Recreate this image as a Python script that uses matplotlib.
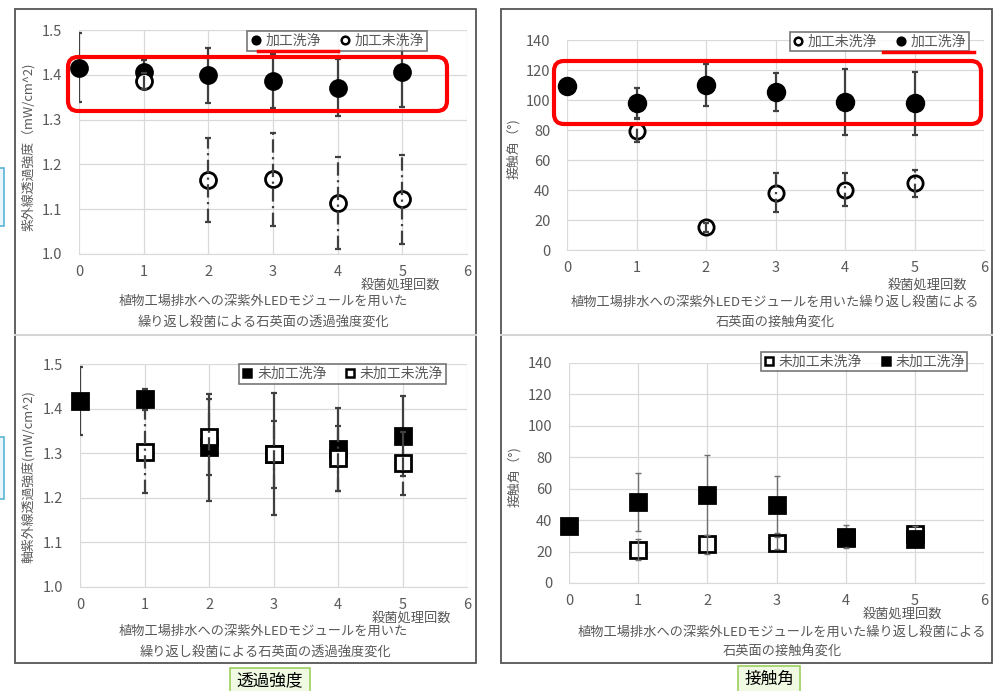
import matplotlib
matplotlib.use("Agg")
import matplotlib.pyplot as plt
from matplotlib.lines import Line2D
from matplotlib.patches import FancyBboxPatch, Rectangle

plt.rcParams['font.family'] = ['Noto Sans CJK JP', 'DejaVu Sans']

W, H = 1000, 691

# ---------------- data ----------------
x_all = [0, 1, 2, 3, 4, 5]
x_sub = [1, 2, 3, 4, 5]

# top-left: transmitted UV intensity (processed)
tl_wash_y = [1.416, 1.407, 1.399, 1.386, 1.371, 1.407]
tl_wash_sd = [0.077, 0.026, 0.061, 0.060, 0.064, 0.079]
tl_nowash_y = [1.387, 1.165, 1.167, 1.114, 1.122]
tl_nowash_sd = [0.018, 0.093, 0.104, 0.102, 0.100]

# top-right: contact angle (processed)
tr_nowash_y = [79.6, 15.1, 38.2, 40.2, 44.4]
tr_nowash_sd = [7.5, 3.0, 13.0, 11.0, 9.0]
tr_wash_y = [109.6, 97.8, 110.0, 105.3, 98.9, 97.8]
tr_wash_sd = [1.0, 10.0, 14.0, 12.5, 22.0, 21.0]

# bottom-left: transmitted UV intensity (unprocessed)
bl_wash_y = [1.417, 1.422, 1.313, 1.298, 1.309, 1.339]
bl_wash_sd = [0.076, 0.023, 0.120, 0.137, 0.093, 0.090]
bl_nowash_y = [1.303, 1.337, 1.298, 1.289, 1.277]
bl_nowash_sd = [0.093, 0.085, 0.075, 0.073, 0.070]

# bottom-right: contact angle (unprocessed)
br_nowash_y = [21.2, 24.6, 25.5, 28.6, 31.4]
br_nowash_sd = [6.5, 6.0, 4.0, 5.0, 5.0]
br_wash_y = [36.3, 51.5, 55.8, 49.8, 29.3, 27.8]
br_wash_sd = [0.5, 18.5, 25.5, 18.0, 7.3, 2.0]

xticks = [0, 1, 2, 3, 4, 5, 6]
yticks_uv = [1.0, 1.1, 1.2, 1.3, 1.4, 1.5]
yticks_ca = [0, 20, 40, 60, 80, 100, 120, 140]

lab_wash_p = '加工洗浄'
lab_nowash_p = '加工未洗浄'
lab_wash_u = '未加工洗浄'
lab_nowash_u = '未加工未洗浄'
xlab_count = '殺菌処理回数'
cap_uv = ['植物工場排水への深紫外LEDモジュールを用いた', '繰り返し殺菌による石英面の透過強度変化']
cap_ca = ['植物工場排水への深紫外LEDモジュールを用いた繰り返し殺菌による', '石英面の接触角変化']

GRAY = '#595959'
GRID = '#d9d9d9'
EB = '#404040'

fig = plt.figure(figsize=(W / 100, H / 100), dpi=100)
fig.patch.set_facecolor('white')


def fx(px):
    return px / W


def fy(py):
    return 1 - py / H


def add_ax(x0, y0, x1, y1):
    return fig.add_axes([fx(x0), fy(y1), fx(x1) - fx(x0), fy(y0) - fy(y1)])


def style(ax, ylim, yticks, fmt):
    ax.set_xlim(0, 6)
    ax.set_ylim(*ylim)
    ax.set_xticks(xticks)
    ax.set_yticks(yticks)
    ax.set_yticklabels([fmt.format(v) for v in yticks])
    for s in ['top', 'right', 'left']:
        ax.spines[s].set_visible(False)
    ax.spines['bottom'].set_color(GRID)
    ax.grid(True, color=GRID, lw=0.9)
    ax.set_axisbelow(True)
    ax.tick_params(length=0, colors=GRAY, labelsize=10.5)
    ax.tick_params(axis='x', pad=8)
    ax.tick_params(axis='y', pad=12)
    ax.set_facecolor('white')


def series(ax, xs, ys, sd, marker, filled, ms, dashed, z, eb_color=EB, eb_lw=1.6):
    ax.plot(xs, ys, ls='none', marker=marker, ms=ms,
            mfc='black' if filled else 'white', mec='black',
            mew=2.0, zorder=z, clip_on=False)
    ez = z - 0.5 if filled else z + 0.5
    eb = ax.errorbar(xs, ys, yerr=sd, fmt='none', ecolor=eb_color,
                     elinewidth=eb_lw, capsize=2, capthick=eb_lw, zorder=ez)
    if dashed:
        for lc in eb[2]:
            lc.set_linestyle((0, (6, 2, 1, 2)))


def legend(ax, entries, bbox_px):
    x0, y0, x1, y1 = bbox_px
    handles = [Line2D([], [], ls='none', marker=m, ms=5.5,
                      mfc='black' if f else 'white', mec='black', mew=1.8)
               for (m, f, _) in entries]
    labels = [e[2] for e in entries]
    leg = fig.legend(handles, labels, ncol=2, loc='center',
                     bbox_to_anchor=(fx((x0 + x1) / 2), fy((y0 + y1) / 2)),
                     frameon=True, fancybox=False, fontsize=10,
                     handlelength=0.8, handletextpad=0.3, columnspacing=1.3,
                     borderpad=0.2, labelcolor=GRAY)
    leg.get_frame().set_edgecolor('#555555')
    leg.get_frame().set_linewidth(1.2)
    return leg


def ftext(px, py, s, **kw):
    kw.setdefault('color', GRAY)
    kw.setdefault('ha', 'center')
    kw.setdefault('va', 'center')
    fig.text(fx(px), fy(py), s, **kw)


# ---------------- frames ----------------
for (x0, y0, x1, y1) in [(15, 9, 476, 663), (501, 9, 992, 663)]:
    fig.patches.append(Rectangle((fx(x0), fy(y1)), fx(x1) - fx(x0), fy(y0) - fy(y1),
                                 transform=fig.transFigure, fill=False,
                                 ec='#555555', lw=1.3, zorder=0))
for (x0, x1) in [(15, 476), (501, 992)]:
    fig.add_artist(Line2D([fx(x0), fx(x1)], [fy(335), fy(335)],
                          transform=fig.transFigure, color='#d4d4d4', lw=1.5))

# ---------------- top-left ----------------
ax1 = add_ax(79, 30, 467, 254)
style(ax1, (1.0, 1.5), yticks_uv, '{:.1f}')
series(ax1, x_all, tl_wash_y, tl_wash_sd, 'o', True, 11.5, False, 3)
series(ax1, x_sub, tl_nowash_y, tl_nowash_sd, 'o', False, 11.5, True, 4)
legend(ax1, [('o', True, lab_wash_p), ('o', False, lab_nowash_p)], (246, 31, 428, 51))
ftext(28, 147, '紫外線透過強度（mW/cm^2)', rotation=90, fontsize=9.3)
ftext(400, 285, xlab_count, fontsize=9.5)
ftext(263, 301, cap_uv[0], fontsize=9.5)
ftext(263, 322, cap_uv[1], fontsize=9.5)

# ---------------- top-right ----------------
ax2 = add_ax(567, 40, 984, 250)
style(ax2, (0, 140), yticks_ca, '{:d}')
series(ax2, x_sub, tr_nowash_y, tr_nowash_sd, 'o', False, 11, True, 3)
series(ax2, x_all, tr_wash_y, tr_wash_sd, 'o', True, 12, False, 5)
legend(ax2, [('o', False, lab_nowash_p), ('o', True, lab_wash_p)], (784, 31, 975, 52))
ftext(513, 149, '接触角（°)', rotation=90, fontsize=9.3)
ftext(927, 285, xlab_count, fontsize=9.5)
ftext(775, 302, cap_ca[0], fontsize=9.5)
ftext(775, 323, cap_ca[1], fontsize=9.5)

# ---------------- bottom-left ----------------
ax3 = add_ax(80, 364, 467, 587)
style(ax3, (1.0, 1.5), yticks_uv, '{:.1f}')
series(ax3, x_all, bl_wash_y, bl_wash_sd, 's', True, 11, False, 3)
series(ax3, x_sub, bl_nowash_y, bl_nowash_sd, 's', False, 11, True, 4)
legend(ax3, [('s', True, lab_wash_u), ('s', False, lab_nowash_u)], (235, 364, 450, 384))
ftext(28, 477, '軸紫外線透過強度(mW/cm^2)', rotation=90, fontsize=9.3)
ftext(411, 618, xlab_count, fontsize=9.5)
ftext(263, 631, cap_uv[0], fontsize=9.5)
ftext(265, 652, cap_uv[1], fontsize=9.5)

# ---------------- bottom-right ----------------
ax4 = add_ax(569, 363, 984, 583)
style(ax4, (0, 140), yticks_ca, '{:d}')
series(ax4, x_sub, br_nowash_y, br_nowash_sd, 's', False, 11, False, 3,
       eb_color='#707070', eb_lw=1.0)
series(ax4, x_all, br_wash_y, br_wash_sd, 's', True, 11, False, 5,
       eb_color='#707070', eb_lw=1.0)
legend(ax4, [('s', False, lab_nowash_u), ('s', True, lab_wash_u)], (751, 351, 977, 372))
ftext(514, 477, '接触角（°)', rotation=90, fontsize=9.3)
ftext(902, 614, xlab_count, fontsize=9.5)
ftext(782, 632, cap_ca[0], fontsize=9.5)
ftext(782, 652, cap_ca[1], fontsize=9.5)

# ---------------- annotations (red highlights) ----------------
def red_box(x0, y0, x1, y1):
    p = FancyBboxPatch((x0 / 100, (H - y1) / 100), (x1 - x0) / 100, (y1 - y0) / 100,
                       boxstyle='round,pad=0,rounding_size=0.1',
                       transform=fig.dpi_scale_trans, fill=False,
                       ec='#ff0000', lw=3, zorder=10)
    fig.patches.append(p)


def red_line(x0, x1, y):
    fig.add_artist(Line2D([fx(x0), fx(x1)], [fy(y), fy(y)], transform=fig.transFigure,
                          color='#ff0000', lw=2.5, zorder=10))


red_box(68, 57, 447, 111)
red_line(258, 338, 51)
red_box(554, 61, 981, 124)
red_line(883, 974, 52)

# ---------------- side boxes ----------------
for (y0, y1) in [(168, 226), (437, 499)]:
    fig.patches.append(Rectangle((fx(-10), fy(y1)), fx(14), fy(y0) - fy(y1),
                                 transform=fig.transFigure, fc='#eaf6fb',
                                 ec='#5ab4d6', lw=1.2, zorder=5))


def green_label(x0, x1, y0, s):
    fig.patches.append(Rectangle((fx(x0), fy(H + 5)), fx(x1) - fx(x0), fy(y0) - fy(H + 5),
                                 transform=fig.transFigure, fc='#f0f9e2',
                                 ec='#9cd061', lw=1.2, zorder=5))
    fig.text(fx((x0 + x1) / 2), fy((y0 + H) / 2 + 1), s, ha='center', va='center',
             fontsize=12, color='black', zorder=6)


green_label(230, 310, 668, '透過強度')
green_label(738, 800, 666, '接触角')

fig.savefig('out.png', dpi=100)
